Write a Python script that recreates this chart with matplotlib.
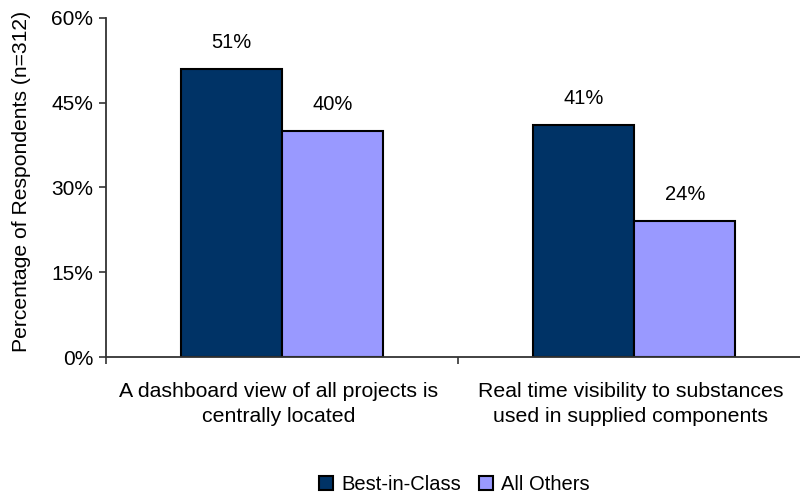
import matplotlib
matplotlib.use("Agg")
import matplotlib.pyplot as plt
import numpy as np

categories = ["A dashboard view of all projects is\ncentrally located",
              "Real time visibility to substances\nused in supplied components"]
best_in_class = [51, 41]
all_others = [40, 24]
series_names = ["Best-in-Class", "All Others"]
yticks = [0, 15, 30, 45, 60]

plt.rcParams['font.family'] = ['Liberation Sans', 'DejaVu Sans']

fig = plt.figure(figsize=(8, 4.94), dpi=100)
ax = fig.add_axes([106 / 800, 0.2773, 704 / 800, 0.9636 - 0.2773])
ax.patch.set_visible(False)

x = np.arange(len(categories))
w = 0.288
b1 = ax.bar(x - w / 2, best_in_class, w, color="#003366", edgecolor="black", linewidth=1.5, label=series_names[0])
b2 = ax.bar(x + w / 2, all_others, w, color="#9999FF", edgecolor="black", linewidth=1.5, label=series_names[1])

for bars, vals in ((b1, best_in_class), (b2, all_others)):
    for r, v in zip(bars, vals):
        ax.text(r.get_x() + r.get_width() / 2, v + 3.0, f"{v}%", ha="center", va="bottom", fontsize=14.5)

ax.set_xlim(-0.5, 1.5)
ax.set_ylim(0, 60)
ax.set_yticks(yticks)
ax.set_yticklabels([f"{t}%" for t in yticks], fontsize=15)
ax.set_xticks([-0.5, 0.5, 1.5])
ax.set_xticklabels([])
ax.tick_params(axis='x', direction='out', length=5, color="#333333", width=1.2)
ax.tick_params(axis='y', direction='out', length=5, color="#333333", width=1.2, pad=4)
for i, c in enumerate(categories):
    ax.text(i - 0.01, -4.4, c, ha="center", va="top", fontsize=15.3, linespacing=1.42)

for s in ["top", "right"]:
    ax.spines[s].set_visible(False)
for s in ["left", "bottom"]:
    ax.spines[s].set_color("#333333")
    ax.spines[s].set_linewidth(1.3)

fig.text(22 / 800, 1 - 181 / 494, "Percentage of Respondents (n=312)", rotation=90,
         ha="center", va="center", fontsize=15.2)

leg = fig.legend(handles=[b1, b2], labels=series_names, loc="center", bbox_to_anchor=(0.568, 0.02),
                 ncol=2, frameon=False, fontsize=14.5, handlelength=0.7, handleheight=0.7,
                 handletextpad=0.4, columnspacing=0.9)

fig.savefig("out.png", dpi=100)
